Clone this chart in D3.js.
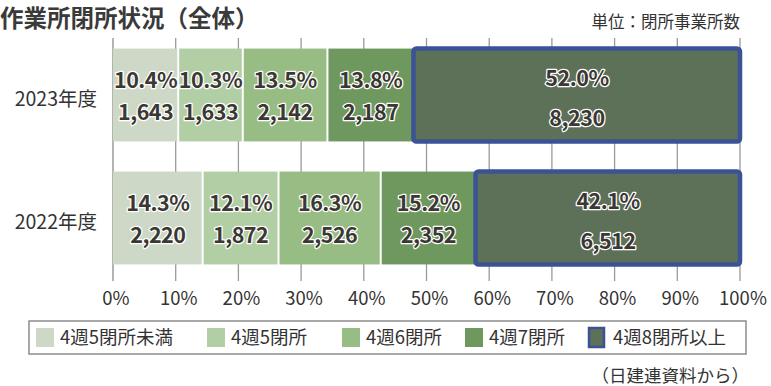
<!DOCTYPE html>
<html>
<head>
<meta charset="utf-8">
<title>作業所閉所状況</title>
<script src="https://d3js.org/d3.v7.min.js"></script>
<style>
  body { margin: 0; background: #fff; }
  text { font-family: "Noto Sans CJK JP", "Noto Sans", sans-serif; }
</style>
</head>
<body>
<svg width="771" height="386"></svg>
<script>
    const width = 771;
    const height = 386;

    // data
    const years = ["2023年度", "2022年度"];
    const categories = ["4週5閉所未満", "4週5閉所", "4週6閉所", "4週7閉所", "4週8閉所以上"];
    const pct2023 = [10.4, 10.3, 13.5, 13.8, 52.0];
    const cnt2023 = [1643, 1633, 2142, 2187, 8230];
    const pct2022 = [14.3, 12.1, 16.3, 15.2, 42.1];
    const cnt2022 = [2220, 1872, 2526, 2352, 6512];
    const ticks = [0, 10, 20, 30, 40, 50, 60, 70, 80, 90, 100];

    const colors = ["#cdd9c6", "#b2cea4", "#97bc84", "#6e985e", "#5d7058"];
    const borderColor = "#3b5296";

    const svg = d3.select("svg");

    const x = d3.scaleLinear().domain([0, 100]).range([113, 740]);
    const y = d3.scaleBand().domain(years).range([33.5, 279.5])
        .paddingInner(0.245).paddingOuter(0.1225);

    // title and notes
    svg.append("text")
        .attr("x", 0).attr("y", 27)
        .attr("font-size", 23.5).attr("font-weight", "bold").attr("fill", "#3a3a3a")
        .text("作業所閉所状況（全体）");

    svg.append("text")
        .attr("x", 740).attr("y", 28)
        .attr("text-anchor", "end")
        .attr("font-size", 16.5).attr("fill", "#333")
        .text("単位：閉所事業所数");

    // grid lines
    svg.append("g")
        .selectAll("line")
        .data(ticks)
        .join("line")
        .attr("x1", d => x(d)).attr("x2", d => x(d))
        .attr("y1", 38).attr("y2", 281)
        .attr("stroke", d => d === 0 ? "#8a8a8a" : "#9a9a9a")
        .attr("stroke-width", 1.3);

    // bars
    const rows = [
        { year: years[0], pct: pct2023, cnt: cnt2023 },
        { year: years[1], pct: pct2022, cnt: cnt2022 }
    ];

    rows.forEach(r => {
        let acc = 0;
        const segs = r.pct.map((p, i) => {
            const s = { i: i, x0: acc, x1: acc + p, pct: p, cnt: r.cnt[i] };
            acc += p;
            return s;
        });
        const g = svg.append("g");
        const y0 = y(r.year);
        const bh = y.bandwidth();

        g.selectAll("rect")
            .data(segs)
            .join("rect")
            .attr("x", d => x(d.x0) + (d.i === 0 ? 0 : 1))
            .attr("width", d => x(d.x1) - x(d.x0) - (d.i === 0 || d.i === 4 ? 1 : 2))
            .attr("y", y0)
            .attr("height", bh)
            .attr("fill", d => colors[d.i]);

        // outline on last segment
        const last = segs[4];
        g.append("rect")
            .attr("x", x(last.x0) - 0.5)
            .attr("width", x(last.x1) - x(last.x0) + 0.5)
            .attr("y", y0)
            .attr("height", bh)
            .attr("rx", 3)
            .attr("fill", colors[4])
            .attr("stroke", borderColor)
            .attr("stroke-width", 4.5);

        const cy = y0 + bh / 2;
        const labels = g.selectAll("g.lab")
            .data(segs)
            .join("g")
            .attr("class", "lab")
            .attr("transform", d => `translate(${(x(d.x0) + x(d.x1)) / 2},${cy})`);

        labels.append("text")
            .attr("y", d => d.i === 4 ? -9 : -7)
            .text(d => d.pct.toFixed(1) + "%");
        labels.append("text")
            .attr("y", d => d.i === 4 ? 31 : 25)
            .text(d => d3.format(",")(d.cnt));

        labels.selectAll("text")
            .attr("text-anchor", "middle")
            .attr("font-size", 21.5)
            .attr("font-weight", "bold")
            .attr("letter-spacing", -0.5)
            .attr("fill", "#3b3833")
            .attr("stroke", "#fff")
            .attr("stroke-width", 2.5)
            .attr("paint-order", "stroke")
            .attr("stroke-linejoin", "round");
    });

    // year labels
    svg.append("g")
        .selectAll("text")
        .data(years)
        .join("text")
        .attr("x", 97)
        .attr("y", d => y(d) + y.bandwidth() / 2 + 11)
        .attr("text-anchor", "end")
        .attr("font-size", 19.5)
        .attr("fill", "#333")
        .text(d => d);

    // x axis labels
    svg.append("g")
        .selectAll("text")
        .data(ticks)
        .join("text")
        .attr("x", d => x(d) + 3)
        .attr("y", 305)
        .attr("text-anchor", "middle")
        .attr("font-size", 18.5)
        .attr("fill", "#333")
        .text(d => d + "%");

    // legend
    svg.append("rect")
        .attr("x", 29).attr("y", 321)
        .attr("width", 717).attr("height", 33)
        .attr("fill", "#fff")
        .attr("stroke", "#8c8c8c").attr("stroke-width", 1.5);

    const legendX = [36, 207, 342, 465, 589];
    const leg = svg.append("g")
        .selectAll("g")
        .data(categories)
        .join("g")
        .attr("transform", (d, i) => `translate(${legendX[i]},328)`);

    leg.append("rect")
        .attr("width", (d, i) => i === 4 ? 15 : 18)
        .attr("height", 19)
        .attr("fill", (d, i) => colors[i])
        .attr("stroke", (d, i) => i === 4 ? borderColor : "none")
        .attr("stroke-width", 2.5);

    leg.append("text")
        .attr("x", 24)
        .attr("y", 16)
        .attr("font-size", 18.5)
        .attr("fill", "#333")
        .text(d => d);

    // source
    svg.append("text")
        .attr("x", 749).attr("y", 382)
        .attr("text-anchor", "end")
        .attr("font-size", 17.5)
        .attr("fill", "#333")
        .text("（日建連資料から）");
</script>
</body>
</html>
